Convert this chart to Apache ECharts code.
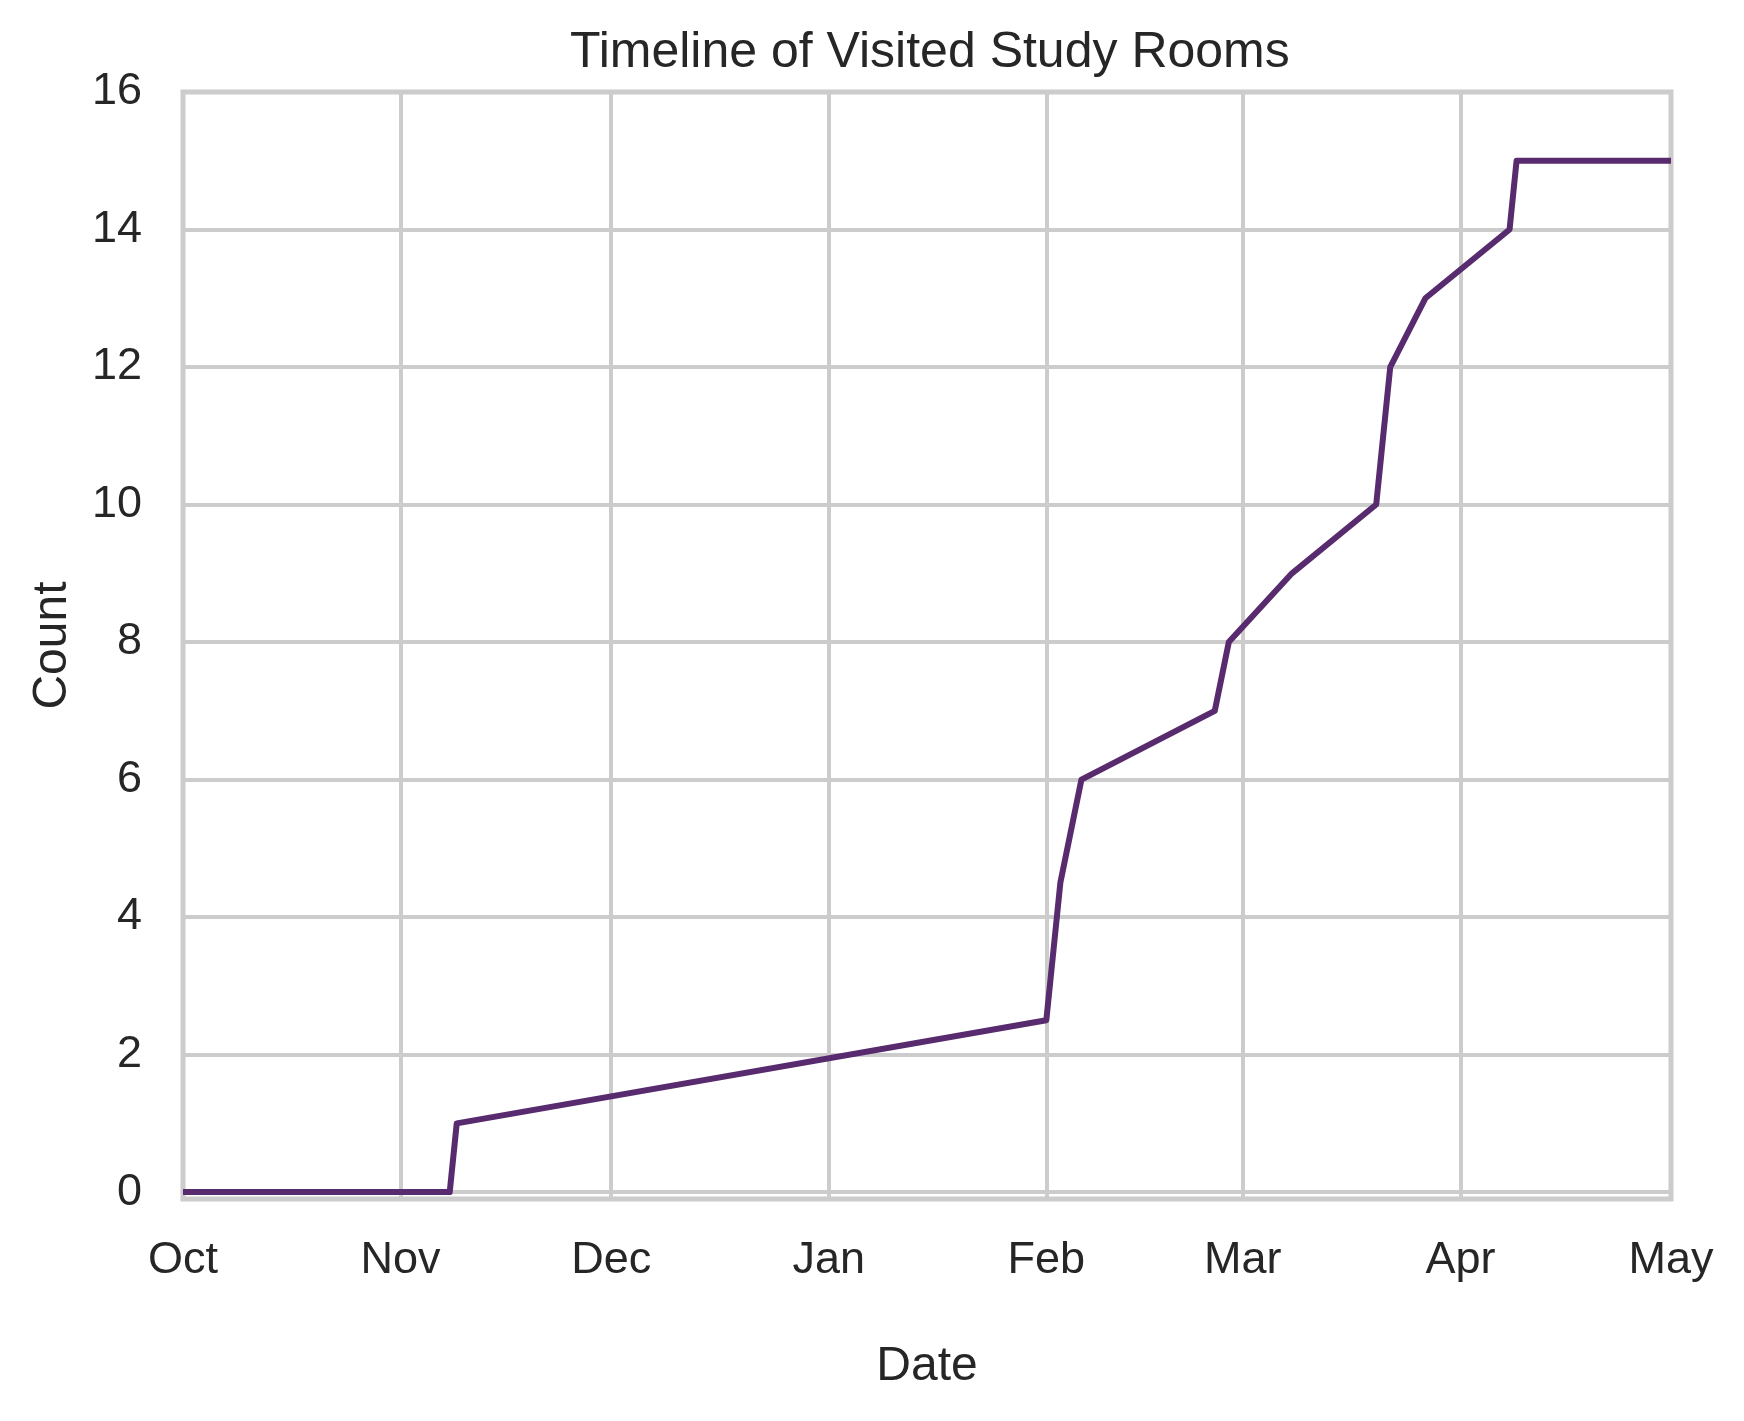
<!DOCTYPE html>
<html>
<head>
<meta charset="utf-8">
<script src="https://cdn.jsdelivr.net/npm/echarts@6/dist/echarts.min.js"></script>
<style>
html,body{margin:0;padding:0;background:#fff;}
#chart{width:1744px;height:1421px;}
</style>
</head>
<body>
<div id="chart"></div>
<script>
// ---- data ----
const dates = ['2022-10-01','2022-11-08','2022-11-09','2023-02-01','2023-02-03','2023-02-06','2023-02-25','2023-02-27','2023-03-08','2023-03-20','2023-03-22','2023-03-27','2023-04-08','2023-04-09','2023-05-01'];
const counts = [0, 0, 1, 2.5, 4.5, 6, 7, 8, 9, 10, 12, 13, 14, 15, 15];
const monthTicks = ['2022-10-01','2022-11-01','2022-12-01','2023-01-01','2023-02-01','2023-03-01','2023-04-01','2023-05-01'];
const monthLabels = ['Oct','Nov','Dec','Jan','Feb','Mar','Apr','May'];
const yTicks = [0, 2, 4, 6, 8, 10, 12, 14, 16];

function ts(s){ const p = s.split('-').map(Number); return Date.UTC(p[0], p[1]-1, p[2]); }
const tickTimes = monthTicks.map(ts);
const seriesData = dates.map((d, i) => [ts(d), counts[i]]);

const FONT = '"Liberation Sans", Arial, sans-serif';
const TXT = '#262626';
const GRID = '#cccccc';

const chart = echarts.init(document.getElementById('chart'), null, {renderer: 'canvas'});
chart.setOption({
  backgroundColor: '#ffffff',
  animation: false,
  title: {
    text: 'Timeline of Visited Study Rooms',
    left: 570, top: 28, padding: 0,
    textStyle: {fontFamily: FONT, fontSize: 50, fontWeight: 'normal', color: TXT, lineHeight: 50}
  },
  grid: {
    left: 183, right: 73, top: 92, bottom: 222,
    show: true, borderColor: GRID, borderWidth: 5, backgroundColor: 'transparent',
    containLabel: false
  },
  xAxis: {
    type: 'value',
    min: tickTimes[0], max: tickTimes[tickTimes.length - 1],
    name: 'Date', nameLocation: 'middle', nameGap: 144,
    nameTextStyle: {fontFamily: FONT, fontSize: 48, color: TXT, lineHeight: 48},
    axisLine: {show: false},
    axisTick: {show: false, customValues: tickTimes},
    axisLabel: {
      customValues: tickTimes,
      margin: 39, fontFamily: FONT, fontSize: 45, color: TXT, lineHeight: 45,
      showMinLabel: true, showMaxLabel: true, hideOverlap: false,
      formatter: function (v) {
        const i = tickTimes.indexOf(v);
        return i >= 0 ? monthLabels[i] : '';
      }
    },
    splitLine: {show: true, lineStyle: {color: GRID, width: 4}}
  },
  yAxis: {
    type: 'value',
    min: -0.1, max: 16,
    name: 'Count', nameLocation: 'middle', nameGap: 106, nameRotate: 90,
    nameTextStyle: {fontFamily: FONT, fontSize: 48, color: TXT, lineHeight: 48},
    axisLine: {show: false},
    axisTick: {show: false, customValues: yTicks},
    axisLabel: {
      customValues: yTicks,
      margin: 41, fontFamily: FONT, fontSize: 45, color: TXT,
      formatter: function (v) { return yTicks.indexOf(v) >= 0 ? String(v) : ''; }
    },
    splitLine: {show: true, lineStyle: {color: GRID, width: 4}}
  },
  series: [{
    type: 'line',
    data: seriesData,
    showSymbol: false,
    symbol: 'none',
    lineStyle: {color: '#582a6e', width: 6, join: 'round', cap: 'butt'},
    itemStyle: {color: '#582a6e'},
    z: 5
  }]
});
</script>
</body>
</html>
